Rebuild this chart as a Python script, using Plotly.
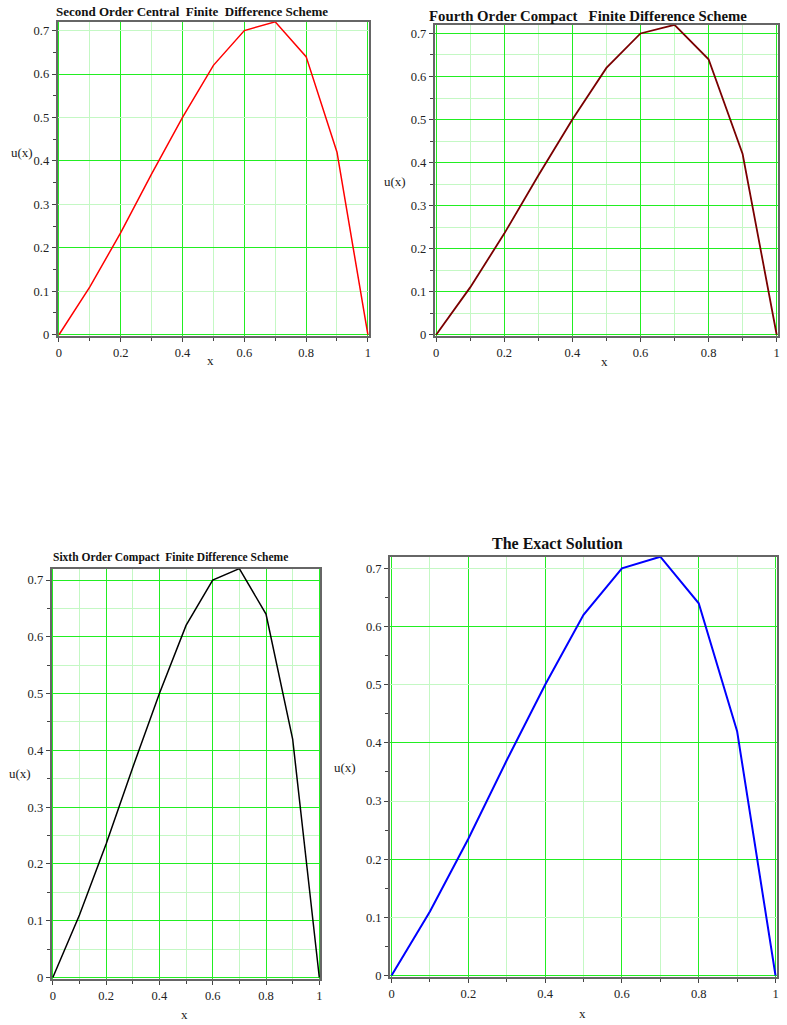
import plotly.graph_objects as go

x_vals = [0.0, 0.1, 0.2, 0.3, 0.4, 0.5, 0.6, 0.7, 0.8, 0.9, 1.0]
u_second = [0.0, 0.11, 0.235, 0.37, 0.5, 0.62, 0.70, 0.72, 0.64, 0.42, 0.0]
u_fourth = [0.0, 0.11, 0.235, 0.37, 0.5, 0.62, 0.70, 0.72, 0.64, 0.42, 0.0]
u_sixth = [0.0, 0.11, 0.235, 0.37, 0.5, 0.62, 0.70, 0.72, 0.64, 0.42, 0.0]
u_exact = [0.0, 0.11, 0.235, 0.37, 0.5, 0.62, 0.70, 0.72, 0.64, 0.42, 0.0]

titles = ["Second Order Central  Finite  Difference Scheme",
          "Fourth Order Compact   Finite Difference Scheme",
          "Sixth Order Compact  Finite Difference Scheme",
          "The Exact Solution"]
series = [u_second, u_fourth, u_sixth, u_exact]
colors = ["#ff0000", "#7a0000", "#000000", "#0000ff"]
widths = [1.5, 1.8, 1.5, 2.0]
# y-grid style: True -> bright every 0.2 / light every 0.1; False -> bright every 0.1 / light every 0.05
coarse_ygrid = [True, False, False, True]

W, H = 787, 1025
BRIGHT = "#22ee22"
LIGHT = "#c4f8c4"
# pixel boxes: x0, x1, ytop, ybottom
boxes = [(56, 369, 22, 338), (435, 780, 25, 338), (50, 320, 572, 985), (390, 779, 560, 983)]
title_pos = [(52, 12, "left", 13.0), (427, 16, "left", 14.8), (49, 561, "left", 11.5), (558, 547, "center", 16)]
ylab_pos = [(20, 153), (395, 183), (18, 778), (345, 772)]
xlab_pos = [(210, 363), (606, 364), (183, 1020), (583, 1019)]

SERIF = "Liberation Serif, Times New Roman, serif"
TICKFONT = dict(family=SERIF, size=12.5, color="#222222")
YRANGE = [-0.003, 0.72]
fig = go.Figure()
annotations = []
for i in range(4):
    ax = "" if i == 0 else str(i + 1)
    x0, x1, yt, yb = boxes[i]
    xa = dict(domain=[x0 / W, x1 / W], range=[-0.004, 1.004], dtick=0.2, tick0=0,
              showgrid=True, gridcolor=BRIGHT, gridwidth=1.3,
              showline=True, linecolor="#666666", linewidth=2, mirror=True,
              ticks="outside", ticklen=4, tickcolor="#444444", zeroline=False,
              tickfont=TICKFONT,
              minor=dict(dtick=0.1, tick0=0, showgrid=True, gridcolor=LIGHT, gridwidth=1,
                         ticks="outside", ticklen=3, tickcolor="#444444"),
              anchor="y" + ax, fixedrange=True, layer="below traces")
    if coarse_ygrid[i]:
        ya = dict(domain=[1 - yb / H, 1 - yt / H], range=YRANGE, dtick=0.1, tick0=0,
                  showgrid=True, gridcolor=LIGHT, gridwidth=1.3,
                  showline=True, linecolor="#666666", linewidth=2, mirror=True,
                  ticks="outside", ticklen=4, tickcolor="#444444", zeroline=False,
                  tickfont=TICKFONT,
                  minor=dict(dtick=0.05, tick0=0, showgrid=False,
                             ticks="outside", ticklen=3, tickcolor="#444444"),
                  anchor="x" + ax, fixedrange=True)
    else:
        ya = dict(domain=[1 - yb / H, 1 - yt / H], range=YRANGE, dtick=0.1, tick0=0,
                  showgrid=True, gridcolor=BRIGHT, gridwidth=1.3,
                  showline=True, linecolor="#666666", linewidth=2, mirror=True,
                  ticks="outside", ticklen=4, tickcolor="#444444", zeroline=False,
                  tickfont=TICKFONT,
                  minor=dict(dtick=0.05, tick0=0, showgrid=True, gridcolor=LIGHT, gridwidth=1,
                             ticks="outside", ticklen=3, tickcolor="#444444"),
                  anchor="x" + ax, fixedrange=True)
    fig.layout["xaxis" + ax] = xa
    fig.layout["yaxis" + ax] = ya
    if coarse_ygrid[i]:
        ov = str(5 + i)
        fig.layout["yaxis" + ov] = dict(overlaying="y" + ax, anchor="x" + ax, range=YRANGE,
                                        dtick=0.2, tick0=0, showgrid=True, gridcolor=BRIGHT,
                                        gridwidth=1.3, showticklabels=False, ticks="",
                                        showline=False, zeroline=False, fixedrange=True)
        fig.add_trace(go.Scatter(x=[None], y=[None], mode="lines", xaxis="x" + ax,
                                 yaxis="y" + ov, showlegend=False, hoverinfo="skip"))
    fig.add_trace(go.Scatter(x=x_vals, y=series[i], mode="lines",
                             line=dict(color=colors[i], width=widths[i]),
                             xaxis="x" + ax, yaxis="y" + ax, showlegend=False))
    tx, ty, anc, fs = title_pos[i]
    annotations.append(dict(text="<b>" + titles[i] + "</b>", x=tx / W, y=1 - ty / H,
                            xref="paper", yref="paper", xanchor=anc, yanchor="middle",
                            showarrow=False, font=dict(family=SERIF, size=fs, color="#111111")))
    lx, ly = ylab_pos[i]
    annotations.append(dict(text="u(x)", x=lx / W, y=1 - ly / H, xref="paper", yref="paper",
                            xanchor="center", yanchor="middle", showarrow=False,
                            font=dict(family=SERIF, size=13, color="#222222")))
    bx, by = xlab_pos[i]
    annotations.append(dict(text="x", x=bx / W, y=1 - by / H, xref="paper", yref="paper",
                            xanchor="center", yanchor="middle", showarrow=False,
                            font=dict(family=SERIF, size=13, color="#222222")))

fig.update_layout(width=W, height=H, margin=dict(l=0, r=0, t=0, b=0),
                  paper_bgcolor="white", plot_bgcolor="white",
                  annotations=annotations, showlegend=False)
fig.write_html("out.html", config={"displayModeBar": False},
               post_script="document.body.style.margin='0';document.body.style.padding='0';"
                           "document.body.style.overflow='hidden';"
                           "document.documentElement.style.overflow='hidden';")
